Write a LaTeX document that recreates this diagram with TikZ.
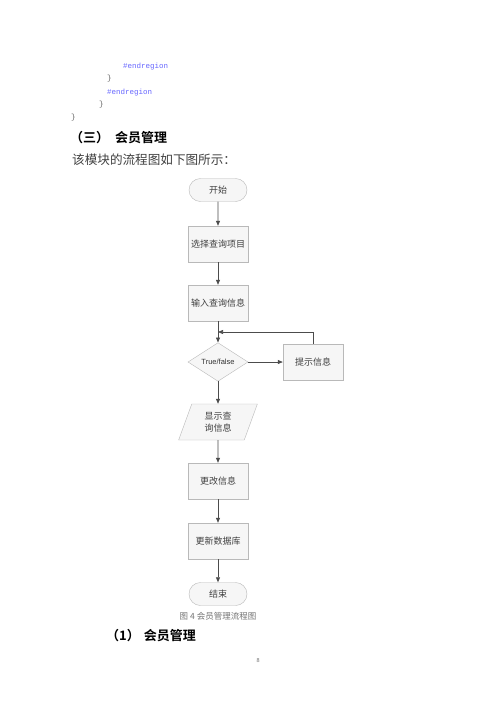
\documentclass[tikz,border=0pt]{standalone}
\usepackage{fontspec}
\setmainfont{Liberation Serif}
\setmonofont{Liberation Mono}
\newfontfamily\cjk{Noto Sans CJK SC}
\newfontfamily\cjkb{Noto Sans CJK SC Bold}
\newfontfamily\lat{Liberation Sans}
\usepackage{tikz}
\usetikzlibrary{shapes.geometric,shapes.misc,arrows.meta,calc}

\begin{document}
\begin{tikzpicture}[x=1pt,y=-1pt,
  box/.style={draw=gray!55,fill=gray!7,minimum width=60pt,minimum height=36pt,inner sep=1pt,font=\cjk\fontsize{9}{11}\selectfont,text=black!75},
  term/.style={rounded rectangle,draw=gray!55,fill=gray!7,minimum width=60pt,minimum height=23pt,inner sep=1pt,font=\cjk\fontsize{9}{11}\selectfont,text=black!75},
  decide/.style={diamond,draw=gray!55,fill=gray!7,minimum width=60pt,minimum height=35pt,inner sep=0pt,font=\lat\fontsize{7.5}{9}\selectfont,text=black!80},
  io/.style={trapezium,trapezium left angle=72,trapezium right angle=108,trapezium stretches=true,draw=gray!55,fill=gray!7,minimum width=79pt,minimum height=36pt,inner sep=1pt,align=center,font=\cjk\fontsize{9}{12}\selectfont,text=black!75},
  arr/.style={draw=black!70,line width=0.7pt,-{Triangle[length=5pt,width=4pt]}},
  code/.style={anchor=west,inner sep=0pt,font=\ttfamily\fontsize{7.5}{9}\selectfont}]
\useasboundingbox[fill=white] (0,0) rectangle (500,707);

% code lines
\node[code,text=blue!60] (reg1) at (123,67) {\#endregion};
\node[code,text=black!60] (br1) at (107,79) {\}};
\node[code,text=blue!60] (reg2) at (107,93) {\#endregion};
\node[code,text=black!60] (br2) at (99,105) {\}};
\node[code,text=black!60] (br3) at (71,118) {\}};

% headings
\node[anchor=west,inner sep=0pt,font=\cjkb\fontsize{13}{15}\selectfont] (head) at (70,138) {（三）\hspace{6pt}会员管理};
\node[anchor=west,inner sep=0pt,font=\cjk\fontsize{12.6}{15}\selectfont,text=black!75] (intro) at (72,160) {该模块的流程图如下图所示：};

% flowchart
\node[term] (start) at (218,190) {开始};
\node[box] (choose) at (218,244) {选择查询项目};
\node[box] (input) at (218,303) {输入查询信息};
\coordinate (join) at (218,332);
\node[decide] (check) at (218,362) {True/false};
\node[box] (hint) at (313,362) {提示信息};
\node[io] (show) at (218,422) {显示查\\询信息};
\node[box] (modify) at (218,481) {更改信息};
\node[box] (update) at (218,541) {更新数据库};
\node[term] (stop) at (218,594) {结束};

\draw[arr] (start) -- (choose);
\draw[arr] (choose) -- (input);
\draw[arr] (input) -- (check);
\draw[arr] (check) -- (hint);
\draw[arr] (hint.north) |- (join);
\draw[arr] (check) -- (show);
\draw[arr] (show) -- (modify);
\draw[arr] (modify) -- (update);
\draw[arr] (update) -- (stop);

% caption and footer
\node[inner sep=0pt,font=\cjk\fontsize{8.5}{10}\selectfont,text=black!55] (cap) at (218,616) {图 4 会员管理流程图};
\node[anchor=west,inner sep=0pt,font=\cjkb\fontsize{13}{15}\selectfont] (sub) at (106,636) {（1）\hspace{4pt}会员管理};
\node[inner sep=0pt,font=\fontsize{6}{7}\selectfont,text=black!60] (page) at (258,661) {8};
\end{tikzpicture}
\end{document}
